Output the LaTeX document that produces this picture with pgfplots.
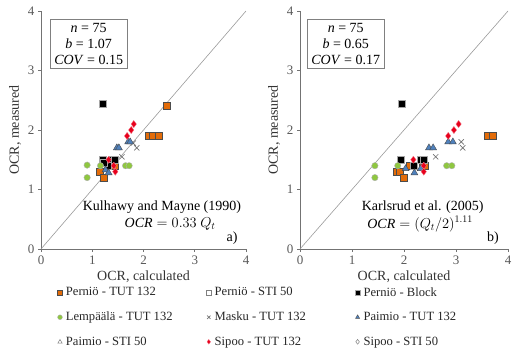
\documentclass[border=0pt]{standalone}
\usepackage{fontspec}
\setmainfont{Liberation Serif}
\usepackage{pgfplots}
\pgfplotsset{compat=1.18}
\definecolor{orng}{HTML}{E36C09}
\definecolor{grn}{HTML}{8FC740}
\definecolor{blu}{HTML}{4F81BD}
\definecolor{rd}{HTML}{E8001C}
\definecolor{axgray}{HTML}{808080}
\definecolor{txtgray}{HTML}{595959}
\newcommand{\fs}[1]{\fontsize{#1}{#1}\selectfont}
\pgfplotsset{
  panel/.style={
    scale only axis, width=205pt, height=238pt,
    xmin=0, xmax=4, ymin=0, ymax=4,
    xtick={0,1,2,3,4}, ytick={0,1,2,3,4},
    axis x line*=bottom, axis y line*=left,
    axis line style={axgray!90!black, line width=0.6pt},
    tick style={axgray!90!black, line width=0.6pt},
    tick align=outside, major tick length=3pt,
    /pgf/number format/assume math mode=true,
    ticklabel style={font=\fs{13}, text=txtgray},
    label style={font=\fs{14}, text=black!80},
    xlabel={OCR, calculated}, ylabel={OCR, measured},
    clip=false,
  },
  pA/.style={only marks, mark=square*, mark size=3.5pt, mark options={fill=orng, draw=gray!60!black, line width=0.4pt}},
  pB/.style={only marks, mark=square, mark size=3.5pt, mark options={draw=gray, line width=0.5pt}},
  pC/.style={only marks, mark=square*, mark size=3.5pt, mark options={fill=black, draw=gray!70, line width=0.4pt}},
  pD/.style={only marks, mark=*, mark size=3.2pt, mark options={fill=grn, draw=gray!60, line width=0.4pt}},
  pE/.style={only marks, mark=x, mark size=3.7pt, mark options={draw=gray!90!black, line width=0.7pt}},
  pF/.style={only marks, mark=triangle*, mark size=4pt, mark options={fill=blu, draw=gray!60!black, line width=0.4pt}},
  pG/.style={only marks, mark=triangle, mark size=4pt, mark options={draw=gray, line width=0.5pt}},
  pH/.style={only marks, mark=diamond*, mark size=3.6pt, mark options={fill=rd, draw=rd!50!white, line width=0.3pt}},
  pI/.style={only marks, mark=diamond, mark size=3.6pt, mark options={draw=gray, line width=0.5pt}},
}
\newcommand{\lgt}[1]{\makebox[140pt][l]{\hspace{1.5pt}#1}}
\begin{document}
\begin{tikzpicture}
\path[use as bounding box] (0,0) rectangle (513pt,362pt);
% ---------- panel a ----------
\begin{axis}[panel, at={(41pt,113pt)}, anchor=south west,
  legend columns=3,
  legend style={at={(0.08,-0.152)}, anchor=north west, draw=none, fill=none,
    font=\fs{12.6}, text=black!85, row sep=10.5pt, inner sep=0pt},
  legend image code/.code={\draw[mark repeat=2,mark phase=2,#1] plot coordinates {(0cm,0cm) (0.15cm,0cm) (0.3cm,0cm)};},
  legend image post style={mark size=2.4pt},
  legend cell align=left]
\addplot[axgray!80, line width=0.6pt, forget plot] coordinates {(0,0) (4,4)};
\addplot[pA] coordinates {(2.45,2.41) (2.10,1.90) (2.18,1.90) (2.30,1.90) (1.15,1.30) (1.22,1.20) (1.43,1.40) (1.35,1.40)};
\addlegendentry{\lgt{Perniö - TUT 132}}
\addlegendimage{pB}
\addlegendentry{\lgt{Perniö - STI 50}}
\addplot[pC] coordinates {(1.20,2.45) (1.20,1.50) (1.38,1.50) (1.43,1.50) (1.30,1.40) (1.22,1.45)};
\addlegendentry{\lgt{Perniö - Block}}
\addplot[pD] coordinates {(0.90,1.41) (0.90,1.20) (1.65,1.40) (1.72,1.40) (1.16,1.40)};
\addlegendentry{\lgt{Lempäälä - TUT 132}}
\addplot[pE] coordinates {(1.80,1.78) (1.87,1.70) (1.58,1.55)};
\addlegendentry{\lgt{Masku - TUT 132}}
\addplot[pF] coordinates {(1.48,1.70) (1.52,1.70) (1.70,1.80) (1.74,1.80) (1.26,1.33) (1.32,1.28)};
\addlegendentry{\lgt{Paimio - TUT 132}}
\addlegendimage{pG}
\addlegendentry{\lgt{Paimio - STI 50}}
\addplot[pH] coordinates {(1.81,2.10) (1.76,2.00) (1.68,1.90) (1.32,1.50) (1.42,1.40) (1.45,1.30)};
\addlegendentry{\lgt{Sipoo - TUT 132}}
\addlegendimage{pI}
\addlegendentry{\lgt{Sipoo - STI 50}}
\node[draw=axgray, fill=white, align=center, font=\fontsize{14}{16}\selectfont, minimum width=76pt, inner sep=4pt] at (axis cs:0.93,3.45)
  {\textit{n} = 75\\ \textit{b} = 1.07\\ \textit{COV} = 0.15};
\node[font=\fs{14}] at (axis cs:2.36,0.71) {Kulhawy and Mayne (1990)};
\node[font=\fs{14}] at (axis cs:2.52,0.42) {$\mathit{OCR} = 0.33\ Q_t$};
\node[font=\fs{14}] at (axis cs:3.73,0.185) {a)};
\end{axis}
% ---------- panel b ----------
\begin{axis}[panel, at={(300pt,113pt)}, anchor=south west, width=208pt]
\addplot[axgray!80, line width=0.6pt] coordinates {(0,0) (4,4)};
\addplot[pA] coordinates {(3.60,1.90) (3.70,1.90) (1.85,1.30) (1.92,1.30) (2.00,1.20) (2.10,1.40) (2.35,1.40) (2.40,1.40)};
\addplot[pC] coordinates {(1.96,2.45) (1.93,1.50) (2.33,1.50) (2.38,1.50) (2.18,1.40)};
\addplot[pD] coordinates {(1.44,1.40) (1.44,1.20) (2.82,1.40) (2.92,1.40) (1.88,1.40)};
\addplot[pE] coordinates {(3.10,1.80) (3.13,1.70) (2.61,1.55)};
\addplot[pF] coordinates {(2.48,1.70) (2.56,1.70) (2.85,1.80) (2.94,1.80) (2.03,1.35) (2.20,1.28) (2.32,1.35)};
\addplot[pH] coordinates {(3.05,2.10) (2.96,2.00) (2.85,1.90) (2.18,1.50) (2.38,1.40) (2.38,1.30)};
\node[draw=axgray, fill=white, align=center, font=\fontsize{14}{16}\selectfont, minimum width=76pt, inner sep=4pt] at (axis cs:0.88,3.45)
  {\textit{n} = 75\\ \textit{b} = 0.65\\ \textit{COV} = 0.17};
\node[font=\fs{14}] at (axis cs:2.36,0.71) {Karlsrud et al. (2005)};
\node[font=\fs{14}] at (axis cs:2.31,0.42) {$\mathit{OCR} = (Q_t/2)^{1.11}$};
\node[font=\fs{14}] at (axis cs:3.71,0.185) {b)};
\end{axis}
\end{tikzpicture}
\end{document}
